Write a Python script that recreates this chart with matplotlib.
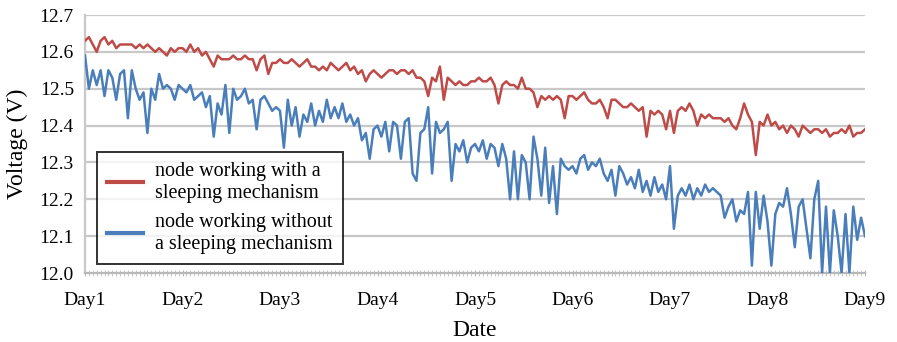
import numpy as np
import matplotlib.pyplot as plt

# Напряжение узла, по 25 отсчетов на сутки (Day1..Day8) + последний отсчет на Day9
red_days = [
    [12.63, 12.64, 12.62, 12.60, 12.63, 12.64, 12.62, 12.63, 12.61, 12.62, 12.62, 12.62, 12.62,
     12.61, 12.62, 12.61, 12.62, 12.61, 12.60, 12.61, 12.60, 12.59, 12.61, 12.60, 12.61],
    [12.61, 12.60, 12.62, 12.60, 12.61, 12.59, 12.60, 12.58, 12.56, 12.59, 12.58, 12.58, 12.58,
     12.59, 12.58, 12.58, 12.59, 12.58, 12.58, 12.55, 12.58, 12.59, 12.54, 12.57, 12.57],
    [12.58, 12.57, 12.57, 12.58, 12.57, 12.56, 12.57, 12.58, 12.56, 12.56, 12.55, 12.56, 12.55,
     12.57, 12.56, 12.55, 12.56, 12.57, 12.55, 12.56, 12.54, 12.55, 12.52, 12.54, 12.55],
    [12.54, 12.53, 12.54, 12.55, 12.55, 12.54, 12.55, 12.55, 12.54, 12.55, 12.53, 12.53, 12.52,
     12.48, 12.53, 12.52, 12.56, 12.47, 12.53, 12.52, 12.51, 12.52, 12.51, 12.51, 12.52],
    [12.52, 12.53, 12.52, 12.52, 12.53, 12.51, 12.46, 12.51, 12.52, 12.51, 12.51, 12.50, 12.53,
     12.50, 12.50, 12.49, 12.45, 12.48, 12.47, 12.48, 12.47, 12.48, 12.47, 12.42, 12.48],
    [12.48, 12.47, 12.48, 12.49, 12.47, 12.46, 12.46, 12.47, 12.45, 12.42, 12.47, 12.47, 12.46,
     12.45, 12.45, 12.46, 12.45, 12.44, 12.45, 12.37, 12.44, 12.43, 12.44, 12.43, 12.39],
    [12.44, 12.38, 12.44, 12.45, 12.44, 12.46, 12.44, 12.40, 12.43, 12.42, 12.43, 12.42, 12.42,
     12.42, 12.41, 12.42, 12.40, 12.39, 12.42, 12.46, 12.43, 12.41, 12.32, 12.41, 12.40],
    [12.43, 12.40, 12.41, 12.39, 12.40, 12.38, 12.40, 12.39, 12.37, 12.40, 12.39, 12.38, 12.39,
     12.39, 12.38, 12.39, 12.37, 12.38, 12.38, 12.39, 12.38, 12.40, 12.37, 12.38, 12.38],
]
red_last = 12.39

blue_days = [
    [12.59, 12.50, 12.55, 12.51, 12.55, 12.48, 12.55, 12.53, 12.47, 12.54, 12.55, 12.42, 12.55,
     12.50, 12.47, 12.49, 12.38, 12.50, 12.47, 12.54, 12.50, 12.51, 12.50, 12.47, 12.51],
    [12.50, 12.49, 12.51, 12.47, 12.48, 12.49, 12.45, 12.48, 12.37, 12.46, 12.43, 12.51, 12.38,
     12.50, 12.47, 12.48, 12.50, 12.46, 12.47, 12.39, 12.47, 12.48, 12.46, 12.44, 12.45],
    [12.44, 12.34, 12.47, 12.40, 12.45, 12.37, 12.43, 12.41, 12.46, 12.40, 12.44, 12.41, 12.47,
     12.42, 12.45, 12.42, 12.46, 12.41, 12.43, 12.40, 12.42, 12.36, 12.38, 12.31, 12.39],
    [12.40, 12.37, 12.41, 12.33, 12.41, 12.40, 12.31, 12.41, 12.42, 12.27, 12.25, 12.38, 12.39,
     12.45, 12.27, 12.41, 12.38, 12.39, 12.41, 12.25, 12.35, 12.33, 12.36, 12.30, 12.34],
    [12.35, 12.33, 12.36, 12.31, 12.35, 12.34, 12.29, 12.35, 12.31, 12.20, 12.33, 12.20, 12.32,
     12.30, 12.20, 12.37, 12.31, 12.21, 12.34, 12.19, 12.29, 12.16, 12.31, 12.29, 12.28],
    [12.29, 12.27, 12.31, 12.32, 12.28, 12.30, 12.29, 12.31, 12.27, 12.25, 12.28, 12.21, 12.29,
     12.27, 12.24, 12.26, 12.23, 12.28, 12.22, 12.25, 12.21, 12.26, 12.22, 12.24, 12.20],
    [12.29, 12.12, 12.21, 12.23, 12.21, 12.24, 12.20, 12.23, 12.21, 12.24, 12.22, 12.23, 12.22,
     12.21, 12.15, 12.18, 12.20, 12.14, 12.17, 12.16, 12.22, 12.02, 12.22, 12.12, 12.21],
    [12.14, 12.02, 12.16, 12.19, 12.18, 12.23, 12.16, 12.07, 12.18, 12.20, 12.12, 12.04, 12.20,
     12.25, 12.00, 12.18, 12.00, 12.17, 12.10, 12.00, 12.16, 12.00, 12.18, 12.09, 12.15],
]
blue_last = 12.10

day_labels = ['Day1', 'Day2', 'Day3', 'Day4', 'Day5', 'Day6', 'Day7', 'Day8', 'Day9']
y_ticks = [12.0, 12.1, 12.2, 12.3, 12.4, 12.5, 12.6, 12.7]
label_red = 'node working with a\nsleeping mechanism'
label_blue = 'node working without\na sleeping mechanism'

red = np.array(sum(red_days, []) + [red_last])
blue = np.array(sum(blue_days, []) + [blue_last])
per_day = len(red_days[0])
x = np.arange(len(red))

plt.rcParams['font.family'] = ['Liberation Serif', 'DejaVu Serif']

fig = plt.figure(figsize=(8.97, 3.42), dpi=100)
ax = fig.add_axes([85 / 897, 1 - 273 / 342, 780 / 897, 258 / 342])

# сетка
for yv in y_ticks[1:]:
    ax.axhline(yv, color='#c8c8c8', linewidth=1.6, zorder=0)

ax.plot(x, red, color='#be4b48', linewidth=1.8, label=label_red, zorder=3)
ax.plot(x, blue, color='#4a7ebb', linewidth=1.8, label=label_blue, zorder=3)

ax.set_xlim(0, len(red) - 1)
ax.set_ylim(12.0, 12.7)
ax.set_yticks(y_ticks)
ax.set_yticklabels([f'{v:.1f}' for v in y_ticks])
ax.set_xticks(np.arange(0, len(red), per_day))
ax.set_xticklabels(day_labels)
ax.set_xticks(x, minor=True)

for s in ['top', 'right']:
    ax.spines[s].set_visible(False)
ax.spines['left'].set_color('#c8c8c8')
ax.spines['left'].set_linewidth(1.6)
ax.spines['bottom'].set_color('#b8b8b8')
ax.spines['bottom'].set_linewidth(1.6)
ax.spines['left'].set_bounds(12.0, 12.7)

ax.tick_params(axis='y', length=0, labelsize=14, pad=8)
ax.tick_params(axis='x', which='major', length=5, direction='inout', color='#b8b8b8', labelsize=14, pad=11)
ax.tick_params(axis='x', which='minor', length=5, direction='inout', color='#c8c8c8', width=0.8)

ax.set_xlabel('Date', fontsize=17, labelpad=8)
ax.set_ylabel('Voltage (V)', fontsize=17, labelpad=8)

leg = ax.legend(loc='upper left', bbox_to_anchor=(97 / 897, 1 - 152 / 342),
                bbox_transform=fig.transFigure, fontsize=14.5, frameon=True,
                fancybox=False, handlelength=1.8, handletextpad=0.6,
                borderpad=0.5, labelspacing=0.5, borderaxespad=0)
leg.get_frame().set_edgecolor('black')
leg.get_frame().set_linewidth(1.4)
for line in leg.get_lines():
    line.set_linewidth(3)

fig.savefig('out.png', dpi=100)
plt.close(fig)
